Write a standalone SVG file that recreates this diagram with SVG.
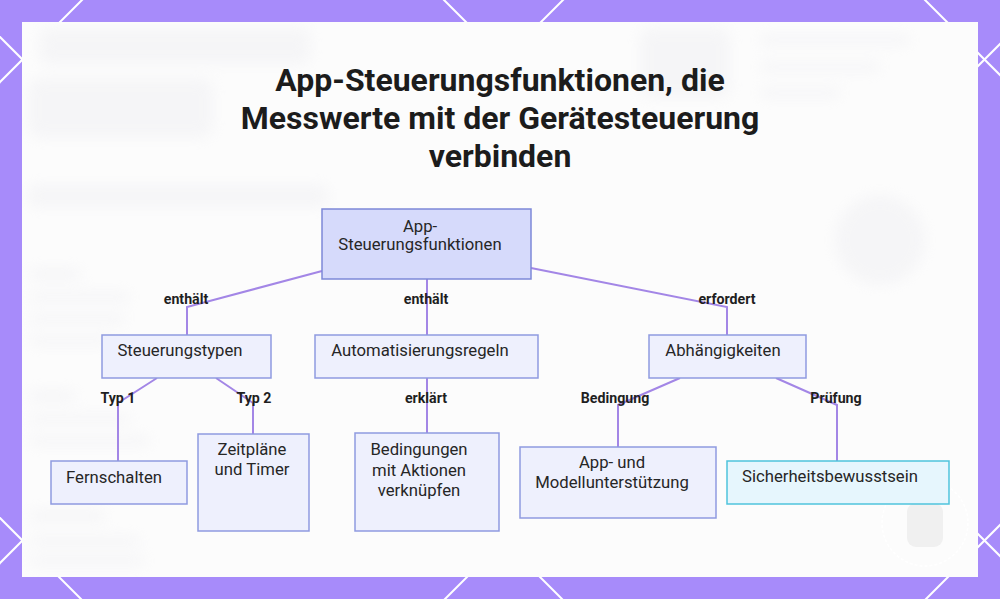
<svg xmlns="http://www.w3.org/2000/svg" width="1000" height="599" viewBox="0 0 1000 599">
<defs>
<style>
.bgline{stroke:#ffffff;stroke-width:2;fill:none}
.edge{stroke:#a386e6;stroke-width:2;fill:none}
.node rect{fill:#eef0fd;stroke:#8f9ae0;stroke-width:1.5}
.ntext{font-family:Roboto,"Liberation Sans",sans-serif;font-size:16.7px;fill:#262626;text-anchor:middle}
.elabel{font-family:Roboto,"Liberation Sans",sans-serif;font-size:14.2px;font-weight:bold;fill:#1f1f1f;text-anchor:middle}
.title{font-family:Roboto,"Liberation Sans",sans-serif;font-size:32px;font-weight:bold;fill:#1c1c1c;text-anchor:middle}
.ghost{fill:#e9e9ee}
</style>
<filter id="blur" x="-20%" y="-20%" width="140%" height="140%"><feGaussianBlur stdDeviation="7"/></filter>
<clipPath id="panelclip"><rect x="22" y="22" width="956" height="555"/></clipPath>
</defs>
<rect x="0" y="0" width="1000" height="599" fill="#a78bfa"/>
<g id="lattice">
<line class="bgline" x1="-20" y1="102" x2="102" y2="-20"/>
<line class="bgline" x1="-20" y1="583" x2="583" y2="-20"/>
<line class="bgline" x1="25" y1="1019" x2="1064" y2="-20"/>
<line class="bgline" x1="506" y1="1019" x2="1020" y2="505"/>
<line class="bgline" x1="-20" y1="17" x2="600" y2="637"/>
<line class="bgline" x1="424" y1="-20" x2="1020" y2="576"/>
<line class="bgline" x1="905" y1="-20" x2="1020" y2="95"/>
<line class="bgline" x1="-20" y1="498" x2="120" y2="638"/>
</g>
<rect x="22" y="22" width="956" height="555" fill="#fcfcfc"/>
<g id="ghost" clip-path="url(#panelclip)" filter="url(#blur)" opacity="0.35">
<rect class="ghost" x="40" y="28" width="270" height="36" rx="8"/>
<rect class="ghost" x="28" y="78" width="185" height="60" rx="12"/>
<rect class="ghost" x="28" y="185" width="300" height="22" rx="6" fill="#e6e2f7"/>
<rect class="ghost" x="30" y="268" width="50" height="12" rx="4"/>
<rect class="ghost" x="30" y="292" width="100" height="10" rx="4"/>
<rect class="ghost" x="30" y="314" width="95" height="10" rx="4"/>
<rect class="ghost" x="30" y="336" width="80" height="10" rx="4"/>
<rect class="ghost" x="30" y="390" width="45" height="12" rx="4"/>
<rect class="ghost" x="30" y="414" width="100" height="10" rx="4"/>
<rect class="ghost" x="30" y="436" width="120" height="10" rx="4"/>
<rect class="ghost" x="30" y="510" width="75" height="12" rx="4"/>
<rect class="ghost" x="30" y="536" width="110" height="10" rx="4"/>
<rect class="ghost" x="30" y="556" width="115" height="10" rx="4"/>
<rect class="ghost" x="640" y="28" width="90" height="70" rx="10"/>
<rect class="ghost" x="760" y="35" width="150" height="10" rx="4"/>
<rect class="ghost" x="760" y="62" width="120" height="10" rx="4"/>
<rect class="ghost" x="760" y="88" width="80" height="10" rx="4"/>
<circle class="ghost" cx="880" cy="240" r="45"/>
<rect class="ghost" x="1000" y="490" width="320" height="80" rx="30" fill="#eeeeee"/>
</g>
<g id="deco">
<circle cx="925" cy="523" r="43" fill="none" stroke="#ffffff" stroke-width="1.5" stroke-dasharray="3 2"/>
<rect x="907" y="503" width="36" height="44" rx="9" fill="#f0f0f0"/>
<line x1="919" y1="497" x2="919" y2="503" stroke="#ffffff" stroke-width="1.5"/>
<line x1="931" y1="497" x2="931" y2="503" stroke="#ffffff" stroke-width="1.5"/>
</g>
<g id="title">
<text class="title" x="500" y="91">App-Steuerungsfunktionen, die</text>
<text class="title" x="500" y="129">Messwerte mit der Gerätesteuerung</text>
<text class="title" x="500" y="167">verbinden</text>
</g>
<g id="connectors">
<polyline class="edge" points="322,271 187,307 187,335"/>
<polyline class="edge" points="427,279 427,335"/>
<polyline class="edge" points="531,268 727,307 727,335"/>
<polyline class="edge" points="157,378 118,403 118,461"/>
<polyline class="edge" points="216,378 253,403 253,434"/>
<polyline class="edge" points="427,378 427,433"/>
<polyline class="edge" points="680,378 618,405 618,447"/>
<polyline class="edge" points="776,378 837,405 837,461"/>
<text class="elabel" x="186" y="304">enthält</text>
<text class="elabel" x="426" y="304">enthält</text>
<text class="elabel" x="727" y="304">erfordert</text>
<text class="elabel" x="118" y="403">Typ 1</text>
<text class="elabel" x="254" y="403">Typ 2</text>
<text class="elabel" x="426" y="403">erklärt</text>
<text class="elabel" x="615" y="403">Bedingung</text>
<text class="elabel" x="836" y="403">Prüfung</text>
</g>
<g id="n-root" class="node">
<rect x="322" y="209" width="209" height="70" style="fill:#d6dafb;stroke:#7d88d8"/>
<text class="ntext" x="420" y="232">App-</text>
<text class="ntext" x="420" y="250">Steuerungsfunktionen</text>
</g>
<g id="n-steuerungstypen" class="node">
<rect x="102" y="335" width="169" height="43"/>
<text class="ntext" x="180" y="356">Steuerungstypen</text>
</g>
<g id="n-automatisierung" class="node">
<rect x="315" y="335" width="223" height="43"/>
<text class="ntext" x="420" y="356">Automatisierungsregeln</text>
</g>
<g id="n-abhaengigkeiten" class="node">
<rect x="649" y="335" width="157" height="43"/>
<text class="ntext" x="723" y="356">Abhängigkeiten</text>
</g>
<g id="n-fernschalten" class="node">
<rect x="51" y="461" width="136" height="43"/>
<text class="ntext" x="114" y="483">Fernschalten</text>
</g>
<g id="n-zeitplaene" class="node">
<rect x="198" y="434" width="111" height="97"/>
<text class="ntext" x="252" y="455">Zeitpläne</text>
<text class="ntext" x="252" y="475">und Timer</text>
</g>
<g id="n-bedingungen" class="node">
<rect x="355" y="433" width="144" height="98"/>
<text class="ntext" x="419" y="455">Bedingungen</text>
<text class="ntext" x="419" y="476">mit Aktionen</text>
<text class="ntext" x="419" y="496">verknüpfen</text>
</g>
<g id="n-appmodell" class="node">
<rect x="520" y="447" width="196" height="71"/>
<text class="ntext" x="612" y="468">App- und</text>
<text class="ntext" x="612" y="488">Modellunterstützung</text>
</g>
<g id="n-sicherheit" class="node">
<rect x="727" y="461" width="222" height="43" style="fill:#e6f6fd;stroke:#4fc3dc"/>
<text class="ntext" x="830" y="482">Sicherheitsbewusstsein</text>
</g>
</svg>
